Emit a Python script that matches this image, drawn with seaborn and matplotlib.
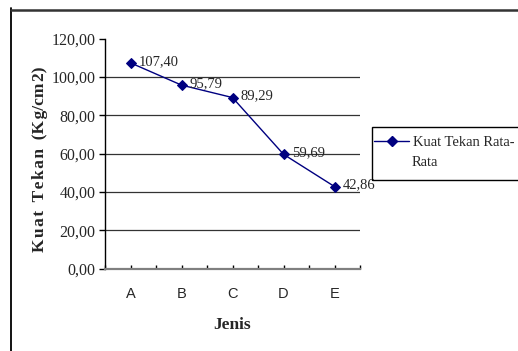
import matplotlib
matplotlib.use("Agg")
import matplotlib.pyplot as plt
from matplotlib.lines import Line2D
from matplotlib.patches import Rectangle
import seaborn as sns
import pandas as pd

# Average compressive strength per mix type
categories = ["A", "B", "C", "D", "E"]
kuat_tekan = [107.40, 95.79, 89.29, 59.69, 42.86]
y_ticks = [0, 20, 40, 60, 80, 100, 120]
series_name = ["Kuat Tekan Rata-", "Rata"]

sns.set_style("white")
plt.rcParams["font.family"] = ["Liberation Serif", "DejaVu Serif"]

W, H = 518, 351
fig = plt.figure(figsize=(W / 100, H / 100), dpi=100)

def fx(px):
    return px / W

def fy(py):
    return 1 - py / H

ax_left, ax_right, ax_top, ax_bottom = 105, 360, 38.7, 268.7
ax = fig.add_axes([fx(ax_left), fy(ax_bottom), fx(ax_right - ax_left), (ax_bottom - ax_top) / H])

df = pd.DataFrame({"Jenis": categories, "Kuat": kuat_tekan})
sns.lineplot(data=df, x="Jenis", y="Kuat", ax=ax, color="#000080", lw=1.0,
             marker="D", markersize=5.5, markeredgecolor="#000080", sort=False)

ax.set_xlim(-0.5, len(categories) - 0.5)
ax.set_ylim(y_ticks[0], y_ticks[-1])
ax.set_yticks(y_ticks)
ax.set_yticklabels([f"{v:.2f}".replace(".", ",") for v in y_ticks], fontsize=11.5)
ax.set_xticks(range(len(categories)))
ax.set_xticklabels(categories, family="Liberation Sans", fontsize=10.5)
ax.set_xticks([i - 0.5 for i in range(len(categories) + 1)], minor=True)

# horizontal gridlines between the axis limits
for v in y_ticks[1:-1]:
    ax.axhline(v, color="#333333", lw=0.9, zorder=0)

for side in ("top", "right"):
    ax.spines[side].set_visible(False)
ax.spines["left"].set_color("black")
ax.spines["left"].set_linewidth(1.0)
ax.spines["bottom"].set_color("#808080")
ax.spines["bottom"].set_linewidth(1.6)

ax.tick_params(axis="y", direction="out", length=4, width=1, color="black", pad=3, left=True)
ax.tick_params(axis="x", which="both", direction="in", length=3, width=1, color="black",
               bottom=True, pad=13)
ax.tick_params(axis="x", which="minor", length=3)

# value labels next to each point
for i, v in enumerate(kuat_tekan):
    ax.annotate(f"{v:.2f}".replace(".", ","), (i, v), xytext=(6, 1),
                textcoords="offset points", ha="left", va="center", fontsize=10.5,
                annotation_clip=False)

hs = "\u200a"
ax.set_ylabel(hs.join("Kuat") + "  " + hs.join("Tekan") + "  (" + hs.join("Kg") + "/cm" + hs + "2)",
              fontsize=12.5, fontweight="bold")
ax.yaxis.set_label_coords(-0.225, 0.477)
ax.set_xlabel("Jenis", fontsize=12.5, fontweight="bold")
ax.xaxis.set_label_coords(0.5, -0.21)
ax.xaxis.label.set_va("top")

# legend box
fig.patches.append(Rectangle((fx(372), fy(180)), fx(200), (180 - 127) / H, transform=fig.transFigure,
                             fill=False, edgecolor="black", lw=1.0, zorder=5))
handle = Line2D([], [], color="#000080", lw=1.0, marker="D", markersize=5.5)
fig.legend([handle], [series_name[0]], loc="center left", bbox_to_anchor=(fx(374), fy(142)),
           frameon=False, fontsize=10.5, handlelength=2.4, handletextpad=0.3,
           borderaxespad=0, borderpad=0)
fig.text(fx(412), fy(163), series_name[1], fontsize=10.5, ha="left", va="center")

# chart border
fig.lines.append(Line2D([fx(11), fx(11)], [fy(8), 0], transform=fig.transFigure, color="black", lw=1.3))
fig.lines.append(Line2D([fx(10.5), 1], [fy(9.5), fy(9.5)], transform=fig.transFigure, color="#333333", lw=1.8))

fig.savefig("out.png", dpi=100)
